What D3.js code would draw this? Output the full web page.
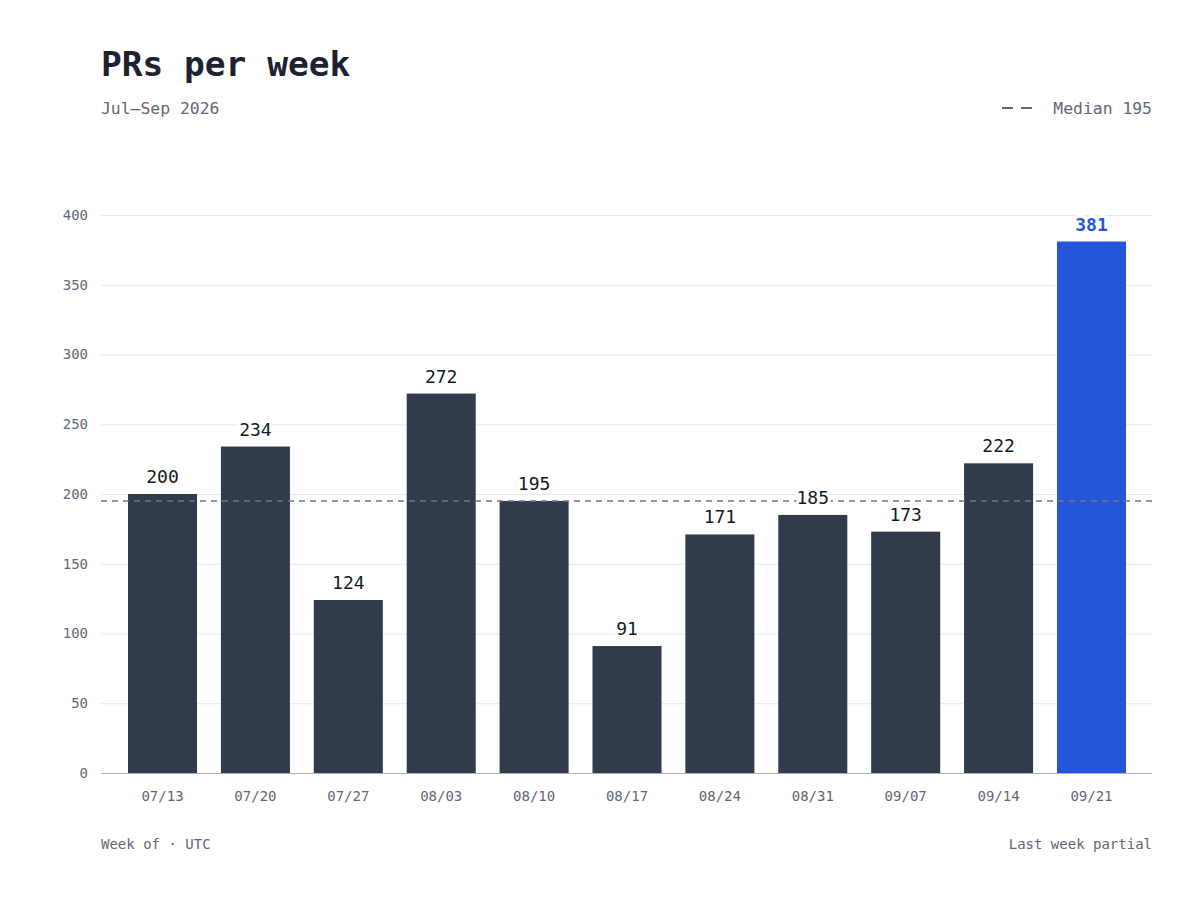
<!DOCTYPE html>
<html><head><meta charset="utf-8">
<script src="https://cdn.jsdelivr.net/npm/d3@7"></script>
<style>
body{margin:0;background:#fff;}
svg{display:block;font-family:"DejaVu Sans Mono","Liberation Mono",monospace;}
</style></head>
<body><svg id="c" width="1200" height="900"></svg>
<script>
const weeks = ["07/13","07/20","07/27","08/03","08/10","08/17","08/24","08/31","09/07","09/14","09/21"];
const prs = [200,234,124,272,195,91,171,185,173,222,381];
const yTicks = [0,50,100,150,200,250,300,350,400];
const median = 195;

const svg = d3.select("#c");
const M = {left:101, right:1152, top:215, bottom:773};

const x = d3.scaleBand().domain(weeks).range([M.left+1, M.right]).paddingInner(0.257).paddingOuter(0.28);
const y = d3.scaleLinear().domain([0,400]).range([M.bottom, M.top]);

// title
svg.append("text").attr("x",101).attr("y",76).attr("font-size",34.5).attr("font-weight","bold").attr("fill","#1b2230").text("PRs per week");
svg.append("text").attr("x",101).attr("y",114).attr("font-size",16.4).attr("fill","#5f6878").text("Jul–Sep 2026");
// legend
svg.append("text").attr("x",1152).attr("y",114).attr("text-anchor","end").attr("font-size",16.4).attr("fill","#5f6878").text("Median 195");
svg.append("line").attr("x1",1002).attr("x2",1032).attr("y1",108).attr("y2",108).attr("stroke","#5f6878").attr("stroke-width",2).attr("stroke-dasharray","11,8");

// grid
svg.append("g").selectAll("line").data(yTicks.filter(d=>d>0)).join("line")
  .attr("x1",M.left).attr("x2",M.right).attr("y1",d=>y(d)+0.5).attr("y2",d=>y(d)+0.5)
  .attr("stroke","#e6e8ec").attr("stroke-width",1);

// y axis
const ya = svg.append("g").attr("transform",`translate(${M.left},0)`).call(d3.axisLeft(y).tickValues(yTicks).tickSize(0).tickPadding(13));
ya.select(".domain").remove();
ya.selectAll("text").attr("font-size",14).attr("fill","#5f6878").attr("font-family","DejaVu Sans Mono");

// bars
svg.append("g").selectAll("rect").data(weeks).join("rect")
  .attr("x",d=>x(d)).attr("width",x.bandwidth())
  .attr("y",(d,i)=>y(prs[i])).attr("height",(d,i)=>y(0)-y(prs[i]))
  .attr("fill",(d,i)=>i===weeks.length-1?"#2556d9":"#303b4c");

// baseline
svg.append("line").attr("x1",M.left).attr("x2",M.right).attr("y1",y(0)+0.5).attr("y2",y(0)+0.5).attr("stroke","#aab0ba").attr("stroke-width",1.2);

// x axis
const xa = svg.append("g").attr("transform",`translate(0,${M.bottom})`).call(d3.axisBottom(x).tickSize(0).tickPadding(18));
xa.select(".domain").remove();
xa.selectAll("text").attr("font-size",14).attr("fill","#5f6878").attr("font-family","DejaVu Sans Mono");

// median line
svg.append("line").attr("x1",M.left).attr("x2",M.right).attr("y1",y(median)).attr("y2",y(median))
  .attr("stroke","#6f7786").attr("stroke-width",1.3).attr("stroke-dasharray","6,5");

// value labels
svg.append("g").selectAll("text").data(weeks).join("text")
  .attr("x",d=>x(d)+x.bandwidth()/2).attr("y",(d,i)=>y(prs[i])-11)
  .attr("text-anchor","middle").attr("font-size",18)
  .attr("font-weight",(d,i)=>i===weeks.length-1?"bold":"normal")
  .attr("fill",(d,i)=>i===weeks.length-1?"#2556d9":"#141a24")
  .attr("stroke","#fff").attr("stroke-width",6).attr("paint-order","stroke").attr("stroke-linejoin","round")
  .text((d,i)=>prs[i]);

// footer
svg.append("text").attr("x",101).attr("y",849).attr("font-size",14).attr("fill","#5f6878").text("Week of · UTC");
svg.append("text").attr("x",1152).attr("y",849).attr("text-anchor","end").attr("font-size",14).attr("fill","#5f6878").text("Last week partial");
</script></body></html>
